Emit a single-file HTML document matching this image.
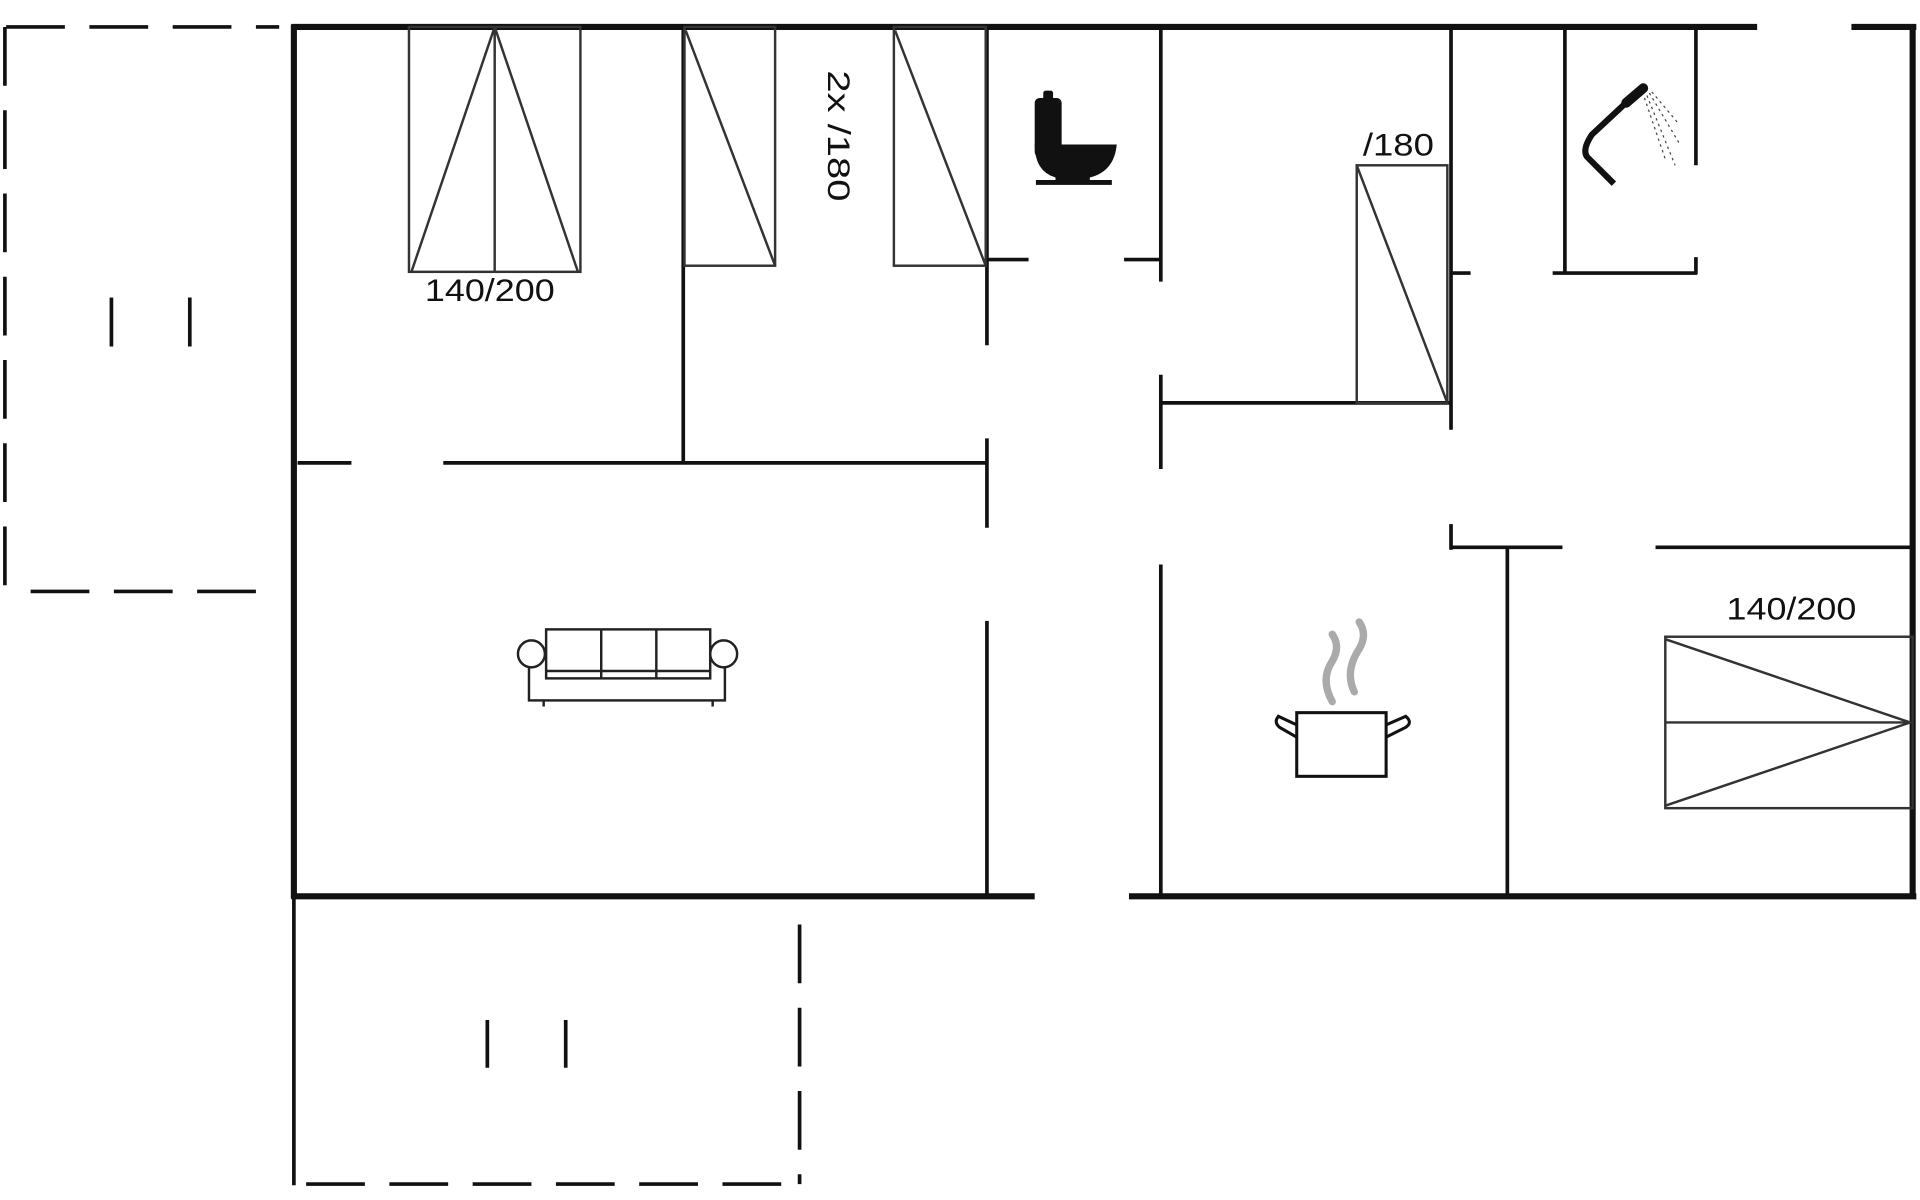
<!DOCTYPE html>
<html><head><meta charset="utf-8"><style>html,body{margin:0;padding:0;background:#fff}svg{display:block}</style></head>
<body>
<svg width="1920" height="1200" viewBox="0 0 1568 980" preserveAspectRatio="none" xmlns="http://www.w3.org/2000/svg">
<g stroke="#111" fill="none" stroke-linecap="butt">
<g stroke-width="5">
<line x1="238" y1="22" x2="1435" y2="22"/>
<line x1="1512" y1="22" x2="1565" y2="22"/>
<line x1="1562" y1="20" x2="1562" y2="734"/>
<line x1="240" y1="20" x2="240" y2="734"/>
<line x1="238" y1="732" x2="845" y2="732"/>
<line x1="922" y1="732" x2="1565" y2="732"/>
</g>
<g stroke-width="3" stroke-dasharray="48,20">
<line x1="5" y1="22" x2="228" y2="22"/>
<line x1="4" y1="22" x2="4" y2="483"/>
<line x1="25" y1="483" x2="215" y2="483"/>
<line x1="250" y1="967" x2="652" y2="967"/>
<line x1="653" y1="755" x2="653" y2="967"/>
</g>
<line x1="240" y1="732" x2="240" y2="968" stroke-width="3"/>
<g stroke-width="3">
<line x1="91" y1="243" x2="91" y2="283"/><line x1="155" y1="243" x2="155" y2="283"/>
<line x1="398" y1="833" x2="398" y2="872"/><line x1="462" y1="833" x2="462" y2="872"/>
</g>
<g stroke-width="3">
<line x1="243" y1="378" x2="287" y2="378"/>
<line x1="362" y1="378" x2="806" y2="378"/>
<line x1="558" y1="22" x2="558" y2="378"/>
<line x1="806" y1="22" x2="806" y2="282"/>
<line x1="806" y1="358" x2="806" y2="431"/>
<line x1="806" y1="507" x2="806" y2="730"/>
<line x1="806" y1="212" x2="840" y2="212"/>
<line x1="918" y1="212" x2="948" y2="212"/>
<line x1="948" y1="22" x2="948" y2="230"/>
<line x1="948" y1="306" x2="948" y2="383"/>
<line x1="948" y1="461" x2="948" y2="730"/>
<line x1="948" y1="329" x2="1184" y2="329"/>
<line x1="1185" y1="22" x2="1185" y2="351"/>
<line x1="1185" y1="428" x2="1185" y2="449"/>
<line x1="1185" y1="223" x2="1201" y2="223"/>
<line x1="1268" y1="223" x2="1386" y2="223"/>
<line x1="1278" y1="22" x2="1278" y2="223"/>
<line x1="1385" y1="22" x2="1385" y2="135"/>
<line x1="1385" y1="210" x2="1385" y2="224"/>
<line x1="1185" y1="447" x2="1276" y2="447"/>
<line x1="1352" y1="447" x2="1562" y2="447"/>
<line x1="1231" y1="447" x2="1231" y2="730"/>
</g>
<g stroke-width="2" stroke="#333">
<rect x="334" y="22" width="140" height="200"/>
<line x1="404" y1="22" x2="404" y2="222"/>
<line x1="404" y1="22" x2="336" y2="222"/>
<line x1="404" y1="22" x2="472" y2="222"/>
<rect x="559" y="22" width="74" height="195"/>
<line x1="560" y1="25" x2="633" y2="217"/>
<rect x="730" y="22" width="75" height="195"/>
<line x1="731" y1="25" x2="805" y2="217"/>
<rect x="1108" y="135" width="74" height="194"/>
<line x1="1108" y1="135" x2="1182" y2="329"/>
<rect x="1360" y="520" width="202" height="140"/>
<line x1="1360" y1="590" x2="1562" y2="590"/>
<polyline points="1360,522 1560,590 1360,658"/>
</g>
</g>
<g font-family="Liberation Sans, sans-serif" font-size="26" fill="#111" text-anchor="middle">
<text x="400" y="246" textLength="106" lengthAdjust="spacingAndGlyphs">140/200</text>
<text x="1142" y="127" textLength="58" lengthAdjust="spacingAndGlyphs">/180</text>
<text x="1463" y="506" textLength="106" lengthAdjust="spacingAndGlyphs">140/200</text>
<text transform="translate(676,111) rotate(90)" x="0" y="0" textLength="107" lengthAdjust="spacingAndGlyphs">2x  /180</text>
</g>
<g fill="#111">
<rect x="845" y="80" width="22" height="48" rx="4"/>
<rect x="852" y="74" width="8" height="8" rx="2"/>
<path d="M845 118 L912 118 Q910 140 890 145 L862 145 Q845 140 845 118Z"/>
<rect x="862" y="135" width="28" height="12"/>
<rect x="846" y="147" width="62" height="4"/>
</g>
<g fill="none" stroke="#111">
<path d="M1318 150 L1296 128 Q1292 122 1300 110 L1330 82" stroke-width="5"/>
<path d="M1328 84 L1342 72" stroke-width="8" stroke-linecap="round"/>
<g stroke-width="1" stroke-dasharray="2,3" stroke="#444">
<line x1="1345" y1="78" x2="1368" y2="135"/>
<line x1="1347" y1="76" x2="1372" y2="118"/>
<line x1="1349" y1="75" x2="1370" y2="100"/>
<line x1="1343" y1="80" x2="1360" y2="130"/>
</g>
</g>
<g fill="#fff" stroke="#222" stroke-width="2">
<rect x="432" y="530" width="160" height="42"/>
<circle cx="434" cy="534" r="11"/>
<circle cx="591" cy="534" r="11"/>
<rect x="446" y="514" width="134" height="40"/>
<line x1="491" y1="514" x2="491" y2="554"/>
<line x1="536" y1="514" x2="536" y2="554"/>
<line x1="446" y1="548" x2="580" y2="548"/>
<line x1="444" y1="572" x2="444" y2="577"/>
<line x1="582" y1="572" x2="582" y2="577"/>
</g>
<g fill="none">
<path d="M1088 573 Q1078 555 1088 540 Q1095 528 1088 518" stroke="#aaa" stroke-width="6" stroke-linecap="round"/>
<path d="M1106 565 Q1098 548 1110 530 Q1117 518 1110 508" stroke="#aaa" stroke-width="6" stroke-linecap="round"/>
<rect x="1059" y="582" width="73" height="52" stroke="#111" stroke-width="2.5"/>
<path d="M1059 592 L1044 585 Q1040 590 1045 594 L1059 602" stroke="#111" stroke-width="2.5"/>
<path d="M1132 592 L1148 585 Q1154 590 1148 594 L1132 602" stroke="#111" stroke-width="2.5"/>
</g>
</svg>
</body></html>
